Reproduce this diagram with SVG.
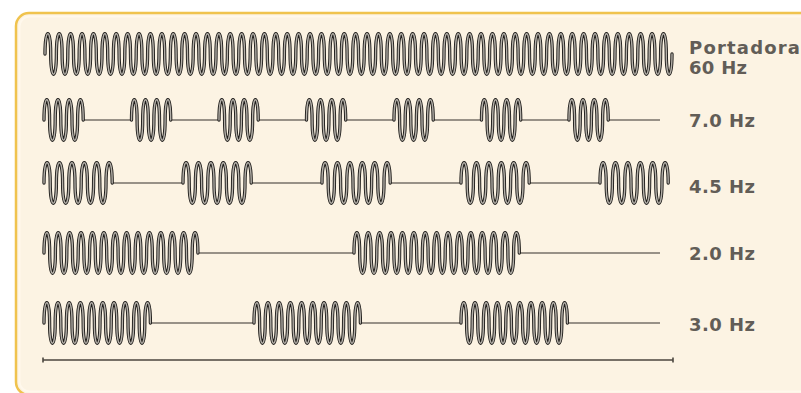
<svg xmlns="http://www.w3.org/2000/svg" width="801" height="393" viewBox="0 0 801 393">
<style>
.wo{fill:none;stroke:#1f1d1b;stroke-width:3.3;stroke-linejoin:round;stroke-linecap:round}
.wi{fill:none;stroke:#b3afa8;stroke-width:1.4;stroke-linejoin:round;stroke-linecap:round}
.ln{fill:none;stroke:#77716a;stroke-width:1.4}
.lb{font-family:"DejaVu Sans","Liberation Sans",sans-serif;font-size:18px;font-weight:bold;fill:#625d57}
</style>
<defs>
<path id="r1" d="M45,54 c0,-27 5.7,-27 5.7,0
s5.7,27 5.7,0 s5.7,-27 5.7,0 s5.7,27 5.7,0 s5.7,-27 5.7,0 s5.7,27 5.7,0 s5.7,-27 5.7,0 s5.7,27 5.7,0 s5.7,-27 5.7,0 s5.7,27 5.7,0 s5.7,-27 5.7,0 s5.7,27 5.7,0 s5.7,-27 5.7,0
s5.7,27 5.7,0 s5.7,-27 5.7,0 s5.7,27 5.7,0 s5.7,-27 5.7,0 s5.7,27 5.7,0 s5.7,-27 5.7,0 s5.7,27 5.7,0 s5.7,-27 5.7,0 s5.7,27 5.7,0 s5.7,-27 5.7,0 s5.7,27 5.7,0 s5.7,-27 5.7,0
s5.7,27 5.7,0 s5.7,-27 5.7,0 s5.7,27 5.7,0 s5.7,-27 5.7,0 s5.7,27 5.7,0 s5.7,-27 5.7,0 s5.7,27 5.7,0 s5.7,-27 5.7,0 s5.7,27 5.7,0 s5.7,-27 5.7,0 s5.7,27 5.7,0 s5.7,-27 5.7,0
s5.7,27 5.7,0 s5.7,-27 5.7,0 s5.7,27 5.7,0 s5.7,-27 5.7,0 s5.7,27 5.7,0 s5.7,-27 5.7,0 s5.7,27 5.7,0 s5.7,-27 5.7,0 s5.7,27 5.7,0 s5.7,-27 5.7,0 s5.7,27 5.7,0 s5.7,-27 5.7,0
s5.7,27 5.7,0 s5.7,-27 5.7,0 s5.7,27 5.7,0 s5.7,-27 5.7,0 s5.7,27 5.7,0 s5.7,-27 5.7,0 s5.7,27 5.7,0 s5.7,-27 5.7,0 s5.7,27 5.7,0 s5.7,-27 5.7,0 s5.7,27 5.7,0 s5.7,-27 5.7,0
s5.7,27 5.7,0 s5.7,-27 5.7,0 s5.7,27 5.7,0 s5.7,-27 5.7,0 s5.7,27 5.7,0 s5.7,-27 5.7,0 s5.7,27 5.7,0 s5.7,-27 5.7,0 s5.7,27 5.7,0 s5.7,-27 5.7,0 s5.7,27 5.7,0 s5.7,-27 5.7,0
s5.7,27 5.7,0 s5.7,-27 5.7,0 s5.7,27 5.7,0 s5.7,-27 5.7,0 s5.7,27 5.7,0 s5.7,-27 5.7,0 s5.7,27 5.7,0 s5.7,-27 5.7,0 s5.7,27 5.7,0 s5.7,-27 5.7,0 s5.7,27 5.7,0 s5.7,-27 5.7,0
s5.7,27 5.7,0 s5.7,-27 5.7,0 s5.7,27 5.7,0 s5.7,-27 5.7,0 s5.7,27 5.7,0 s5.7,-27 5.7,0 s5.7,27 5.7,0 s5.7,-27 5.7,0 s5.7,27 5.7,0 s5.7,-27 5.7,0 s5.7,27 5.7,0 s5.7,-27 5.7,0
s5.7,27 5.7,0 s5.7,-27 5.7,0 s5.7,27 5.7,0 s5.7,-27 5.7,0 s5.7,27 5.7,0 s5.7,-27 5.7,0 s5.7,27 5.7,0 s5.7,-27 5.7,0 s5.7,27 5.7,0 s5.7,-27 5.7,0 s5.7,27 5.7,0 s5.7,-27 5.7,0
s5.7,27 5.7,0"/>
<path id="r2" d="M44,120 c0,-27 5.6,-27 5.6,0 s5.6,27 5.6,0 s5.6,-27 5.6,0 s5.6,27 5.6,0 s5.6,-27 5.6,0 s5.6,27 5.6,0 s5.6,-27 5.6,0
M131.5,120 c0,-27 5.6,-27 5.6,0 s5.6,27 5.6,0 s5.6,-27 5.6,0 s5.6,27 5.6,0 s5.6,-27 5.6,0 s5.6,27 5.6,0 s5.6,-27 5.6,0
M219,120 c0,-27 5.6,-27 5.6,0 s5.6,27 5.6,0 s5.6,-27 5.6,0 s5.6,27 5.6,0 s5.6,-27 5.6,0 s5.6,27 5.6,0 s5.6,-27 5.6,0
M306.5,120 c0,-27 5.6,-27 5.6,0 s5.6,27 5.6,0 s5.6,-27 5.6,0 s5.6,27 5.6,0 s5.6,-27 5.6,0 s5.6,27 5.6,0 s5.6,-27 5.6,0
M394,120 c0,-27 5.6,-27 5.6,0 s5.6,27 5.6,0 s5.6,-27 5.6,0 s5.6,27 5.6,0 s5.6,-27 5.6,0 s5.6,27 5.6,0 s5.6,-27 5.6,0
M481.5,120 c0,-27 5.6,-27 5.6,0 s5.6,27 5.6,0 s5.6,-27 5.6,0 s5.6,27 5.6,0 s5.6,-27 5.6,0 s5.6,27 5.6,0 s5.6,-27 5.6,0
M569,120 c0,-27 5.6,-27 5.6,0 s5.6,27 5.6,0 s5.6,-27 5.6,0 s5.6,27 5.6,0 s5.6,-27 5.6,0 s5.6,27 5.6,0 s5.6,-27 5.6,0"/>
<path id="r3" d="M44,183 c0,-27 6.2,-27 6.2,0 s6.2,27 6.2,0 s6.2,-27 6.2,0 s6.2,27 6.2,0 s6.2,-27 6.2,0 s6.2,27 6.2,0 s6.2,-27 6.2,0 s6.2,27 6.2,0 s6.2,-27 6.2,0 s6.2,27 6.2,0 s6.2,-27 6.2,0
M183,183 c0,-27 6.2,-27 6.2,0 s6.2,27 6.2,0 s6.2,-27 6.2,0 s6.2,27 6.2,0 s6.2,-27 6.2,0 s6.2,27 6.2,0 s6.2,-27 6.2,0 s6.2,27 6.2,0 s6.2,-27 6.2,0 s6.2,27 6.2,0 s6.2,-27 6.2,0
M322,183 c0,-27 6.2,-27 6.2,0 s6.2,27 6.2,0 s6.2,-27 6.2,0 s6.2,27 6.2,0 s6.2,-27 6.2,0 s6.2,27 6.2,0 s6.2,-27 6.2,0 s6.2,27 6.2,0 s6.2,-27 6.2,0 s6.2,27 6.2,0 s6.2,-27 6.2,0
M461,183 c0,-27 6.2,-27 6.2,0 s6.2,27 6.2,0 s6.2,-27 6.2,0 s6.2,27 6.2,0 s6.2,-27 6.2,0 s6.2,27 6.2,0 s6.2,-27 6.2,0 s6.2,27 6.2,0 s6.2,-27 6.2,0 s6.2,27 6.2,0 s6.2,-27 6.2,0
M600,183 c0,-27 6.2,-27 6.2,0 s6.2,27 6.2,0 s6.2,-27 6.2,0 s6.2,27 6.2,0 s6.2,-27 6.2,0 s6.2,27 6.2,0 s6.2,-27 6.2,0 s6.2,27 6.2,0 s6.2,-27 6.2,0 s6.2,27 6.2,0 s6.2,-27 6.2,0"/>
<path id="r4" d="M44,253 c0,-27 5.7,-27 5.7,0
s5.7,27 5.7,0 s5.7,-27 5.7,0 s5.7,27 5.7,0 s5.7,-27 5.7,0 s5.7,27 5.7,0 s5.7,-27 5.7,0 s5.7,27 5.7,0 s5.7,-27 5.7,0 s5.7,27 5.7,0 s5.7,-27 5.7,0
s5.7,27 5.7,0 s5.7,-27 5.7,0 s5.7,27 5.7,0 s5.7,-27 5.7,0 s5.7,27 5.7,0 s5.7,-27 5.7,0 s5.7,27 5.7,0 s5.7,-27 5.7,0 s5.7,27 5.7,0 s5.7,-27 5.7,0
s5.7,27 5.7,0 s5.7,-27 5.7,0 s5.7,27 5.7,0 s5.7,-27 5.7,0 s5.7,27 5.7,0 s5.7,-27 5.7,0
M354,253 c0,-27 5.7,-27 5.7,0
s5.7,27 5.7,0 s5.7,-27 5.7,0 s5.7,27 5.7,0 s5.7,-27 5.7,0 s5.7,27 5.7,0 s5.7,-27 5.7,0 s5.7,27 5.7,0 s5.7,-27 5.7,0 s5.7,27 5.7,0 s5.7,-27 5.7,0
s5.7,27 5.7,0 s5.7,-27 5.7,0 s5.7,27 5.7,0 s5.7,-27 5.7,0 s5.7,27 5.7,0 s5.7,-27 5.7,0 s5.7,27 5.7,0 s5.7,-27 5.7,0 s5.7,27 5.7,0 s5.7,-27 5.7,0
s5.7,27 5.7,0 s5.7,-27 5.7,0 s5.7,27 5.7,0 s5.7,-27 5.7,0 s5.7,27 5.7,0 s5.7,-27 5.7,0 s5.7,27 5.7,0 s5.7,-27 5.7,0"/>
<path id="r5" d="M44,323 c0,-27 5.6,-27 5.6,0
s5.6,27 5.6,0 s5.6,-27 5.6,0 s5.6,27 5.6,0 s5.6,-27 5.6,0 s5.6,27 5.6,0 s5.6,-27 5.6,0 s5.6,27 5.6,0 s5.6,-27 5.6,0 s5.6,27 5.6,0 s5.6,-27 5.6,0
s5.6,27 5.6,0 s5.6,-27 5.6,0 s5.6,27 5.6,0 s5.6,-27 5.6,0 s5.6,27 5.6,0 s5.6,-27 5.6,0 s5.6,27 5.6,0 s5.6,-27 5.6,0
M254,323 c0,-27 5.6,-27 5.6,0
s5.6,27 5.6,0 s5.6,-27 5.6,0 s5.6,27 5.6,0 s5.6,-27 5.6,0 s5.6,27 5.6,0 s5.6,-27 5.6,0 s5.6,27 5.6,0 s5.6,-27 5.6,0 s5.6,27 5.6,0 s5.6,-27 5.6,0
s5.6,27 5.6,0 s5.6,-27 5.6,0 s5.6,27 5.6,0 s5.6,-27 5.6,0 s5.6,27 5.6,0 s5.6,-27 5.6,0 s5.6,27 5.6,0 s5.6,-27 5.6,0
M461,323 c0,-27 5.6,-27 5.6,0
s5.6,27 5.6,0 s5.6,-27 5.6,0 s5.6,27 5.6,0 s5.6,-27 5.6,0 s5.6,27 5.6,0 s5.6,-27 5.6,0 s5.6,27 5.6,0 s5.6,-27 5.6,0 s5.6,27 5.6,0 s5.6,-27 5.6,0
s5.6,27 5.6,0 s5.6,-27 5.6,0 s5.6,27 5.6,0 s5.6,-27 5.6,0 s5.6,27 5.6,0 s5.6,-27 5.6,0 s5.6,27 5.6,0 s5.6,-27 5.6,0"/>
</defs>
<rect x="0" y="0" width="801" height="393" fill="#ffffff"/>
<g id="frame">
<rect x="16" y="13" width="830" height="382" rx="13" fill="#fcf3e3" stroke="#f0c34e" stroke-width="2.5"/>
<rect x="19.5" y="16.5" width="830" height="375" rx="10" fill="none" stroke="#fff8ec" stroke-width="2"/>
</g>
<g id="carrier">
<use href="#r1" class="wo"/><use href="#r1" class="wi"/>
<text class="lb" x="689" y="54" textLength="111" lengthAdjust="spacing">Portadora</text>
<text class="lb" x="689" y="74" textLength="58" lengthAdjust="spacing">60 Hz</text>
</g>
<g id="mod-7hz">
<path class="ln" d="M83.2,120H131.5M170.7,120H219M258.2,120H306.5M345.7,120H394M433.2,120H481.5M520.7,120H569M608.2,120H660"/>
<use href="#r2" class="wo"/><use href="#r2" class="wi"/>
<text class="lb" x="689" y="127" textLength="66" lengthAdjust="spacing">7.0 Hz</text>
</g>
<g id="mod-4_5hz">
<path class="ln" d="M112.2,183H183M251.2,183H322M390.2,183H461M529.2,183H600"/>
<use href="#r3" class="wo"/><use href="#r3" class="wi"/>
<text class="lb" x="689" y="193" textLength="66" lengthAdjust="spacing">4.5 Hz</text>
</g>
<g id="mod-2hz">
<path class="ln" d="M197.9,253H354M519.3,253H660"/>
<use href="#r4" class="wo"/><use href="#r4" class="wi"/>
<text class="lb" x="689" y="260" textLength="66" lengthAdjust="spacing">2.0 Hz</text>
</g>
<g id="mod-3hz">
<path class="ln" d="M150.4,323H254M360.4,323H461M567.4,323H660"/>
<use href="#r5" class="wo"/><use href="#r5" class="wi"/>
<text class="lb" x="689" y="331" textLength="66" lengthAdjust="spacing">3.0 Hz</text>
</g>
<g id="axis">
<path d="M43,360H673M43,357.5V362.5M673,357.5V362.5" fill="none" stroke="#4b463f" stroke-width="1.6"/>
</g>
</svg>
